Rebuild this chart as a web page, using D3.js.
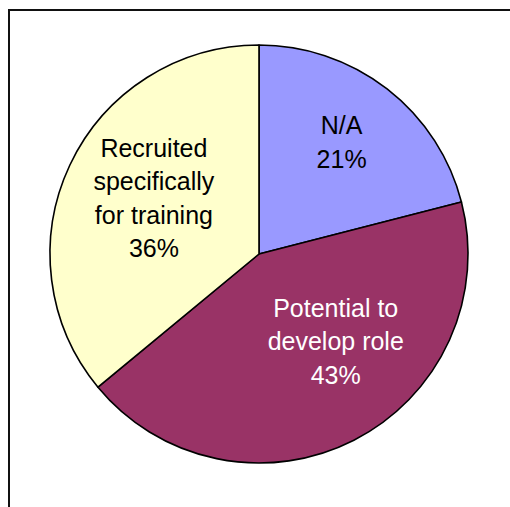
<!DOCTYPE html>
<html>
<head>
<meta charset="utf-8">
<script src="https://cdn.jsdelivr.net/npm/d3@7"></script>
<style>
  html, body { margin: 0; padding: 0; background: #fff; }
  svg { display: block; }
</style>
</head>
<body>
<svg id="chart" width="510" height="507"></svg>
<script>
// Share of respondents by reason for the role
const categories = ["N/A", "Potential to develop role", "Recruited specifically for training"];
const labelLines = [["N/A"], ["Potential to", "develop role"], ["Recruited", "specifically", "for training"]];
const values = [21, 43, 36];
const colors = ["#9999FF", "#993366", "#FFFFCC"];
const textColors = ["#000000", "#FFFFFF", "#000000"];

const svg = d3.select("#chart");
const W = 510, H = 507;

// Chart area frame (runs off the right and bottom edges)
svg.append("rect")
  .attr("x", 9).attr("y", 10)
  .attr("width", 700).attr("height", 700)
  .attr("fill", "#fff")
  .attr("stroke", "#111")
  .attr("stroke-width", 2);

const cx = 259, cy = 254, R = 209;
const g = svg.append("g").attr("transform", `translate(${cx},${cy})`);

const data = categories.map((c, i) => ({ name: c, value: values[i], i }));
const pie = d3.pie().value(d => d.value).sort(null);
const arcs = pie(data);
const arc = d3.arc().innerRadius(0).outerRadius(R);
const labelArc = d3.arc().innerRadius(125).outerRadius(125);

g.selectAll("path.slice")
  .data(arcs)
  .enter().append("path")
  .attr("class", "slice")
  .attr("d", arc)
  .attr("fill", d => colors[d.data.i])
  .attr("stroke", "#000")
  .attr("stroke-width", 1.6)
  .attr("stroke-linejoin", "round");

// Fine placement of each label inside its slice
const labelNudge = { "N/A": [6, -13], "Potential to develop role": [20, -24], "Recruited specifically for training": [8, -3] };
const lineH = 33.5;

arcs.forEach(d => {
  const [x0, y0] = labelArc.centroid(d);
  const nudge = labelNudge[d.data.name] || [0, 0];
  const x = x0 + nudge[0], y = y0 + nudge[1];
  const lines = labelLines[d.data.i].concat([d3.format(".0%")(d.data.value / d3.sum(values))]);
  const first = y - (lines.length - 1) * lineH / 2 + 9;
  const t = g.append("text")
    .attr("text-anchor", "middle")
    .attr("font-family", "Liberation Sans, Arial, sans-serif")
    .attr("font-size", 25)
    .attr("fill", textColors[d.data.i]);
  lines.forEach((ln, k) => {
    t.append("tspan").attr("x", x).attr("y", first + k * lineH).text(ln);
  });
});
</script>
</body>
</html>
